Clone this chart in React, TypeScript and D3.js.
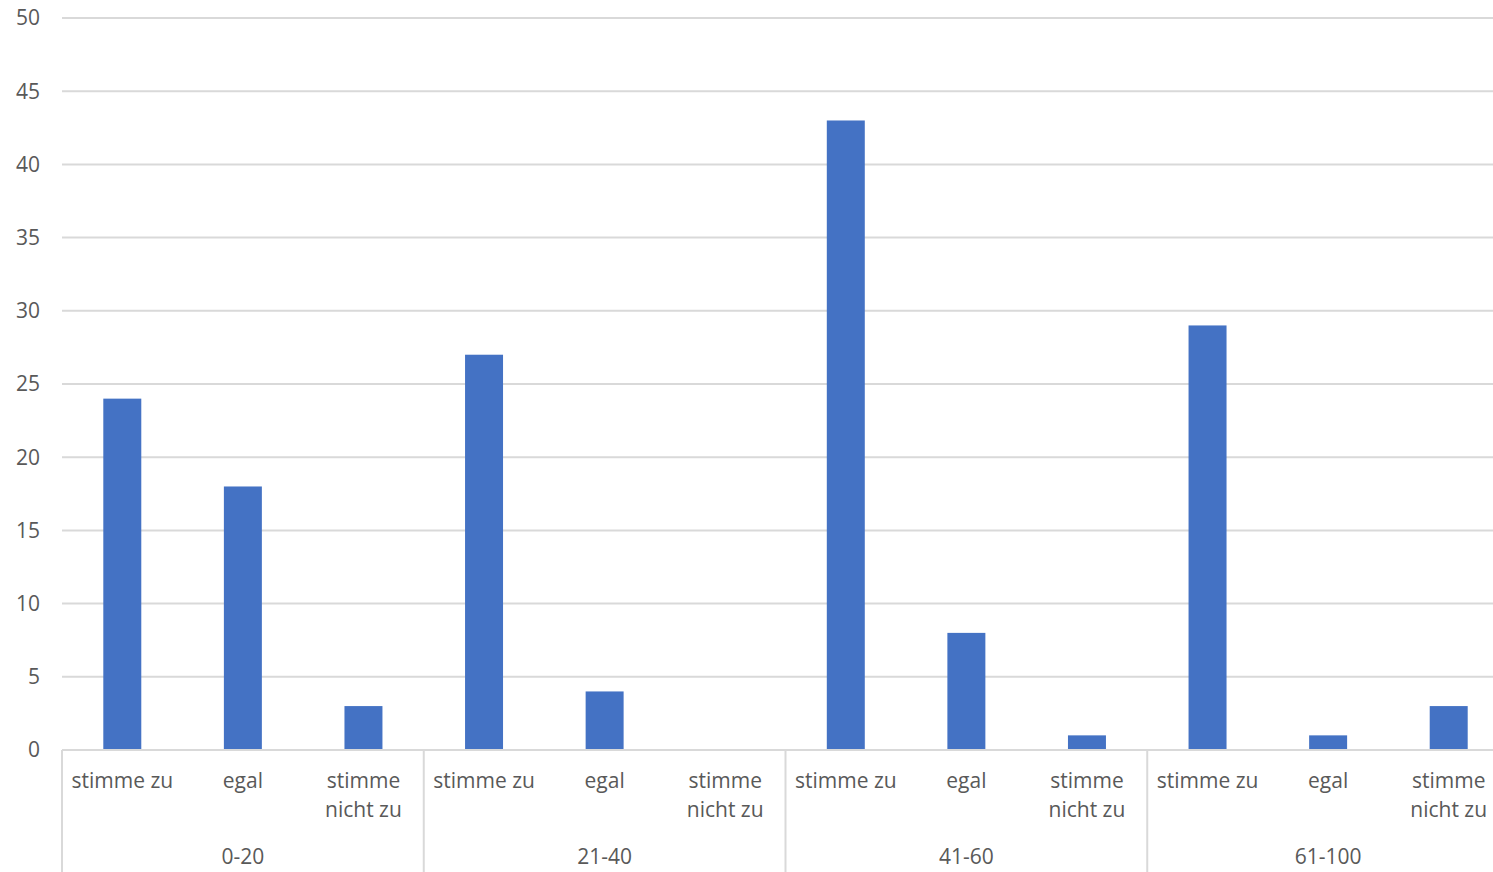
import React from "react";
import * as d3 from "d3";

const groups = ["0-20", "21-40", "41-60", "61-100"];
const answers = ["stimme zu", "egal", "stimme nicht zu"];
const values = [24, 18, 3, 27, 4, 0, 43, 8, 1, 29, 1, 3];
const yTicks = [0, 5, 10, 15, 20, 25, 30, 35, 40, 45, 50];

const W = 1493, H = 872;
const left = 62, right = 1509, top = 18, bottom = 750;
const font = "'Open Sans', 'Noto Sans', sans-serif";
const textColor = "#595959";
const gridColor = "#d9d9d9";
const fs = 21;

export default function App() {
  const cats = groups.flatMap((g) => answers.map((a) => g + "|" + a));
  const x = d3.scaleBand().domain(cats).range([left, right]).paddingInner(0).paddingOuter(0);
  const y = d3.scaleLinear().domain([0, 50]).range([bottom, top]);
  const bw = x.bandwidth();
  const barW = bw * 0.315;
  const gw = bw * answers.length;

  return (
    <svg width={W} height={H} style={{ display: "block", position: "absolute", left: 0, top: 0 }}>
      <rect width={W} height={H} fill="#fff" />
      {yTicks.map((t) => (
        <g key={t}>
          {t > 0 && <line x1={left} x2={W} y1={y(t)} y2={y(t)} stroke={gridColor} strokeWidth={2} />}
          <text x={40} y={y(t)} dy="0.35em" textAnchor="end" fontFamily={font} fontSize={fs} fill={textColor}>{t}</text>
        </g>
      ))}
      {cats.map((c, i) => {
        const v = values[i];
        const cx = (x(c) as number) + bw / 2;
        return v > 0 ? (
          <rect key={c} x={cx - barW / 2} y={y(v)} width={barW} height={y(0) - y(v)} fill="#4472c4" />
        ) : null;
      })}
      <line x1={left} x2={W} y1={bottom} y2={bottom} stroke={gridColor} strokeWidth={2} />
      {groups.map((g, gi) => {
        const gx = left + gi * gw;
        return (
          <g key={g}>
            <line x1={gx} x2={gx} y1={bottom} y2={H} stroke={gridColor} strokeWidth={2} />
            <text x={gx + gw / 2} y={864} textAnchor="middle" fontFamily={font} fontSize={fs} fill={textColor}>{g}</text>
            {answers.map((a, ai) => {
              const cx = gx + bw * ai + bw / 2;
              const lines = a === "stimme nicht zu" ? ["stimme", "nicht zu"] : [a];
              return (
                <text key={a} x={cx} y={788} textAnchor="middle" fontFamily={font} fontSize={fs} fill={textColor}>
                  {lines.map((l, li) => (
                    <tspan key={li} x={cx} dy={li === 0 ? 0 : 29}>{l}</tspan>
                  ))}
                </text>
              );
            })}
          </g>
        );
      })}
    </svg>
  );
}
